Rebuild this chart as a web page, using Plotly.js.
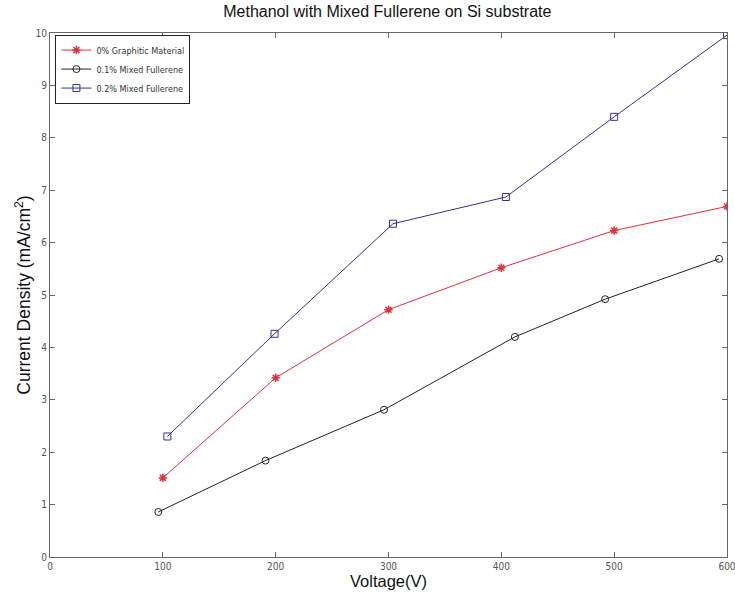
<!DOCTYPE html>
<html><head><meta charset="utf-8">
<script src="https://cdn.plot.ly/plotly-3.0.1.min.js"></script>
<style>html,body{margin:0;padding:0;background:#fff;}#chart{width:735px;height:599px;}</style>
</head><body><div id="chart"></div>
<script>
const seriesNames = ["0% Graphitic Material", "0.1% Mixed Fullerene", "0.2% Mixed Fullerene"];
const voltRed = [100, 200, 300, 400, 500, 600];
const densRed = [1.51, 3.42, 4.72, 5.52, 6.23, 6.69];
const voltBlack = [96, 191, 296, 412, 492, 593];
const densBlack = [0.86, 1.84, 2.81, 4.20, 4.92, 5.69];
const voltBlue = [104, 199, 304, 404, 500, 600];
const densBlue = [2.30, 4.26, 6.36, 6.87, 8.40, 9.96];
const xTicks = [0, 100, 200, 300, 400, 500, 600];
const yTicks = [0, 1, 2, 3, 4, 5, 6, 7, 8, 9, 10];

const tickFont = {family: "Liberation Sans Narrow, DejaVu Sans Condensed, Liberation Sans, sans-serif", size: 10, color: "#555"};
const traces = [
  {x: voltRed, y: densRed, name: seriesNames[0], mode: "lines+markers",
   line: {color: "#e0323c", width: 1}, marker: {symbol: "asterisk-open", size: 7, color: "#e0323c", line: {color: "#e0323c", width: 1.5}}},
  {x: voltBlack, y: densBlack, name: seriesNames[1], mode: "lines+markers",
   line: {color: "#222", width: 1}, marker: {symbol: "circle-open", size: 7, color: "#222", line: {color: "#222", width: 1}}},
  {x: voltBlue, y: densBlue, name: seriesNames[2], mode: "lines+markers",
   line: {color: "#33338f", width: 1}, marker: {symbol: "square-open", size: 7, color: "#33338f", line: {color: "#33338f", width: 1}}}
];
const layout = {
  width: 735, height: 599,
  margin: {l: 50, r: 8, t: 33, b: 42},
  paper_bgcolor: "#fff", plot_bgcolor: "#fff",
  showlegend: true,
  title: {text: "Methanol with Mixed Fullerene on Si substrate", x: 0.527, xanchor: "center", y: 0.99, yanchor: "top",
          font: {family: "Liberation Sans, Arial, sans-serif", size: 16, color: "#111"}},
  xaxis: {range: [0, 600], tickvals: xTicks, ticktext: xTicks.map(String), showgrid: false, zeroline: false,
          showline: true, linecolor: "#666", linewidth: 1, mirror: "ticks", ticks: "inside", ticklen: 5, tickcolor: "#666",
          tickfont: tickFont, ticklabeloverflow: "allow",
          title: {text: "Voltage(V)", standoff: 4, font: {family: "Liberation Sans, Arial, sans-serif", size: 16.5, color: "#111"}}},
  yaxis: {range: [0, 10], tickvals: yTicks, ticktext: yTicks.map(String), showgrid: false, zeroline: false,
          showline: true, linecolor: "#666", linewidth: 1, mirror: "ticks", ticks: "inside", ticklen: 5, tickcolor: "#666",
          tickfont: tickFont, ticklabeloverflow: "allow",
          title: {text: "Current Density (mA/cm<sup>2</sup>)", standoff: 0, font: {family: "Liberation Sans, Arial, sans-serif", size: 17.5, color: "#111"}}},
  legend: {x: 0.008, y: 0.997, xanchor: "left", yanchor: "top", bgcolor: "#fff", bordercolor: "#222", borderwidth: 1,
           font: {family: "Liberation Sans Narrow, DejaVu Sans Condensed, Liberation Sans, sans-serif", size: 9, color: "#333"},
           tracegroupgap: 0, itemwidth: 30}
};
Plotly.newPlot("chart", traces, layout, {staticPlot: true});
</script></body></html>
